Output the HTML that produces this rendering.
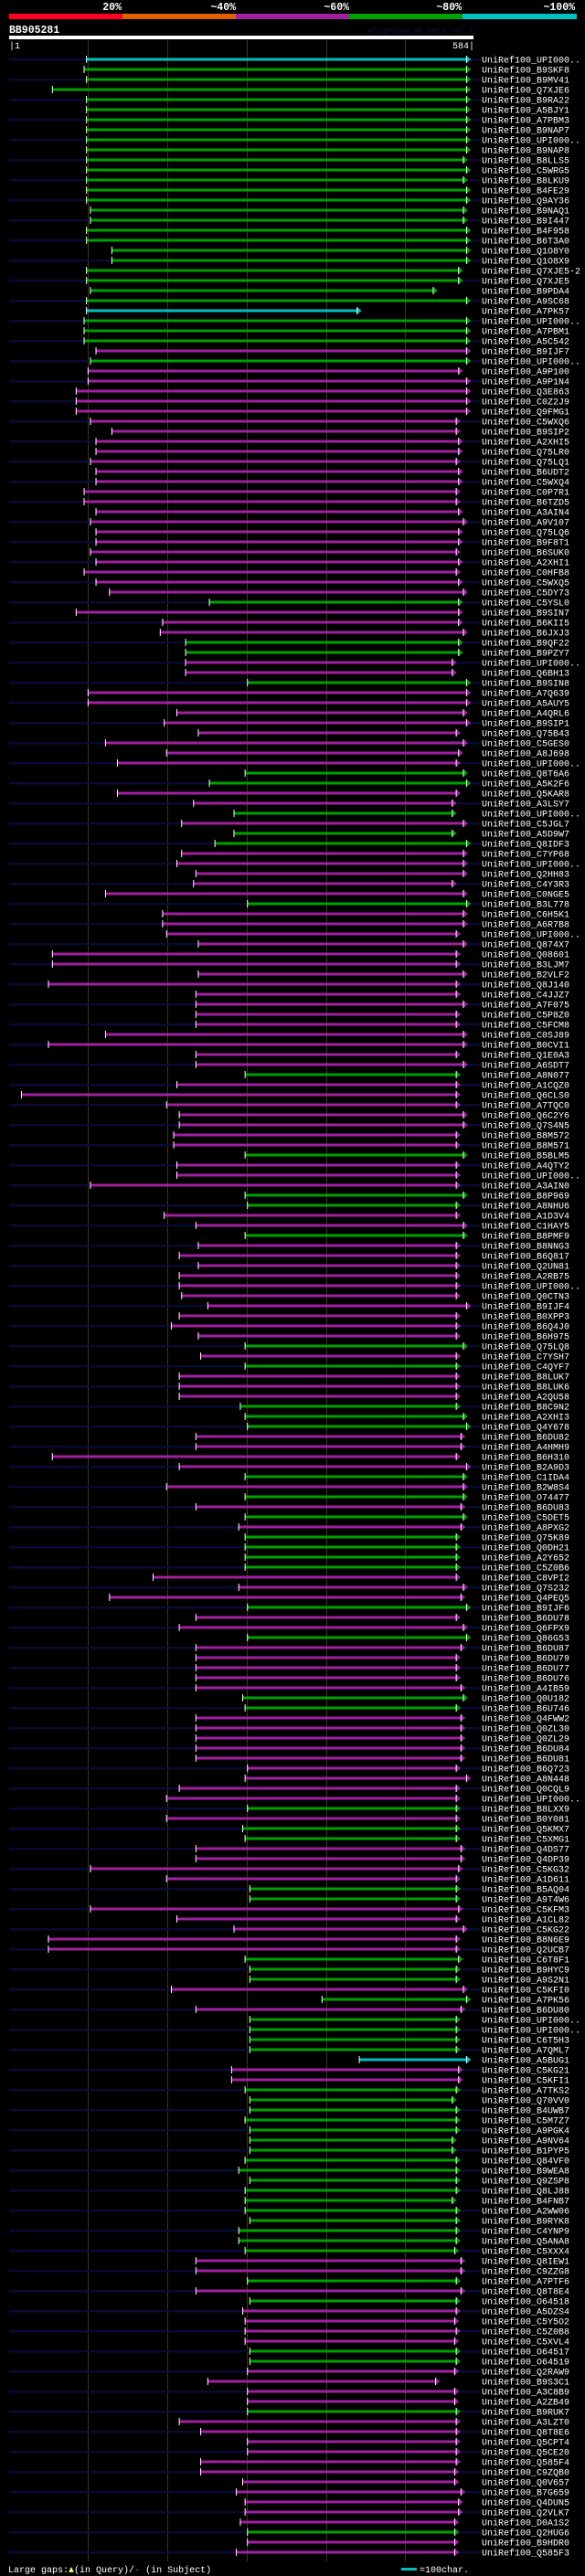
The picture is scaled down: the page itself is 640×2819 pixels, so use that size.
<!DOCTYPE html>
<html><head><meta charset="utf-8">
<style>
html,body{margin:0;padding:0;background:#000;}
body{width:640px;height:2819px;overflow:hidden;}
svg{display:block;}
text{font-family:"Liberation Mono",monospace;}
</style></head>
<body>
<svg id="chart" width="640" height="2819" xmlns="http://www.w3.org/2000/svg">
  <rect x="0" y="0" width="640" height="2819" fill="#000"/>
  <g>
    <rect x="10" y="15" width="124" height="6" fill="#ff0022"/>
    <rect x="134" y="15" width="124" height="6" fill="#e06000"/>
    <rect x="258" y="15" width="124" height="6" fill="#a020a0"/>
    <rect x="382" y="15" width="124" height="6" fill="#00a000"/>
    <rect x="506" y="15" width="125" height="6" fill="#00c0c0"/>
    <g fill="#fff" font-weight="bold" font-size="11.5" text-anchor="end">
      <text x="133" y="11">20%</text>
      <text x="258" y="11">~40%</text>
      <text x="382" y="11">~60%</text>
      <text x="505" y="11">~80%</text>
      <text x="629" y="11">~100%</text>
    </g>
  </g>
  <text x="10" y="36" fill="#fff" font-weight="bold" font-size="11.5">BB905281</text>
  <text x="402" y="36" fill="#141448" font-size="8.4">AlignView.pm Beta rel.7</text>
  <rect x="10" y="39" width="508" height="4" fill="#fff"/>
  <text x="10" y="53" fill="#fff" font-size="10">|1</text>
  <text x="519" y="53" fill="#fff" font-size="10" text-anchor="end">584|</text>
  <g id="grid"></g>
  <g id="rows"></g>
  <g>
    <text x="9" y="2815" fill="#fff" font-size="10">Large gaps:<tspan fill="#ffff80">▲</tspan>(in Query)/<tspan fill="#00c0c0">-</tspan> (in Subject)</text>
    <rect x="439" y="2810" width="17" height="3" fill="#00c0c0"/>
    <text x="459" y="2815" fill="#fff" font-size="10">=100char.</text>
  </g>
</svg>
<script>
const gridTicks = [98, 198, 298, 398, 498];
const names = ["UPI000..","B9SKF8","B9MV41","Q7XJE6","B9RA22","A5BJY1","A7PBM3","B9NAP7","UPI000..","B9NAP8",
"B8LLS5","C5WRG5","B8LKU9","B4FE29","Q9AY36","B9NAQ1","B9I447","B4F958","B6T3A0","Q1O8Y0",
"Q1O8X9","Q7XJE5-2","Q7XJE5","B9PDA4","A9SC68","A7PK57","UPI000..","A7PBM1","A5C542","B9IJF7",
"UPI000..","A9P100","A9P1N4","Q3E863","C0Z2J9","Q9FMG1","C5WXQ6","B9SIP2","A2XHI5","Q75LR0",
"Q75LQ1","B6UDT2","C5WXQ4","C0P7R1","B6TZD5","A3AIN4","A9V107","Q75LQ6","B9F8T1","B6SUK0",
"A2XHI1","C0HFB8","C5WXQ5","C5DY73","C5YSL0","B9SIN7","B6KII5","B6JXJ3","B9QF22","B9PZY7",
"UPI000..","Q6BH13","B9SIN8","A7Q639","A5AUY5","A4QRL6","B9SIP1","Q75B43","C5GES0","A8J698",
"UPI000..","Q8T6A6","A5K2F6","Q5KAR8","A3LSY7","UPI000..","C5JGL7","A5D9W7","Q8IDF3","C7YP68",
"UPI000..","Q2HH83","C4Y3R3","C0NGE5","B3L778","C6H5K1","A6R7B8","UPI000..","Q874X7","Q08601",
"B3LJM7","B2VLF2","Q8J140","C4JJZ7","A7F075","C5P8Z0","C5FCM8","C0SJ89","B0CVI1","Q1E0A3",
"A6SDT7","A8N077","A1CQZ0","Q6CLS0","A7TQC0","Q6C2Y6","Q7S4N5","B8M572","B8M571","B5BLM5",
"A4QTY2","UPI000..","A3AIN0","B8P969","A8NHU6","A1D3V4","C1HAY5","B8PMF9","B8NNG3","B6Q817",
"Q2UN81","A2RB75","UPI000..","Q0CTN3","B9IJF4","B0XPP3","B6Q4J0","B6H975","Q75LQ8","C7YSH7",
"C4QYF7","B8LUK7","B8LUK6","A2QU58","B8C9N2","A2XHI3","Q4Y678","B6DU82","A4HMH9","B6H310",
"B2A9D3","C1IDA4","B2W8S4","O74477","B6DU83","C5DET5","A8PXG2","Q75K89","Q0DH21","A2Y652",
"C5Z0B6","C8VPI2","Q7S232","Q4PEQ5","B9IJF6","B6DU78","Q6FPX9","Q86G53","B6DU87","B6DU79",
"B6DU77","B6DU76","A4IB59","Q0U182","B6U746","Q4FWW2","Q0ZL30","Q0ZL29","B6DU84","B6DU81",
"B6Q723","A8N448","Q0CQL9","UPI000..","B8LXX9","B0Y081","Q5KMX7","C5XMG1","Q4DS77","Q4DP39",
"C5KG32","A1D611","B5AQ04","A9T4W6","C5KFM3","A1CL82","C5KG22","B8N6E9","Q2UCB7","C6T8F1",
"B9HYC9","A9S2N1","C5KFI0","A7PK56","B6DU80","UPI000..","UPI000..","C6T5H3","A7QML7","A5BUG1",
"C5KG21","C5KFI1","A7TKS2","Q70VV0","B4UWB7","C5M7Z7","A9PGK4","A9NV64","B1PYP5","Q84VF0",
"B9WEA8","Q9ZSP8","Q8LJ88","B4FNB7","A2WW06","B9RYK8","C4YNP9","Q5ANA8","C5XXX4","Q8IEW1",
"C9ZZG8","A7PTF6","Q8T8E4","O64518","A5DZS4","C5Y5O2","C5Z0B8","C5XVL4","O64517","O64519",
"Q2RAW9","B9S3C1","A3C8B9","A2ZB49","B9RUK7","A3LZT0","Q8T8E6","Q5CPT4","Q5CE20","Q585F4",
"C9ZQB0","Q0V657","B7G659","Q4DUN5","Q2VLK7","D0A1S2","Q2HUG6","B9HDR0","Q585F3"];
const identityClass = "c"+"g".repeat(24)+"c"+"ggg"+"m"+"g"+"m".repeat(23)+"g"+"mmm"+"gg"+"mm"+"g"+"m".repeat(8)+"gg"+"mm"+"g"+"m"+"gg"+"m".repeat(5)+"g"+"m".repeat(16)+"g"+"m".repeat(7)+"g"+"mmm"+"gg"+"mm"+"g"+"m".repeat(10)+"g"+"m"+"g"+"mmm"+"ggg"+"m".repeat(4)+"g"+"m"+"g"+"m"+"g"+"m"+"gggg"+"mmm"+"g"+"mm"+"g"+"m".repeat(5)+"gg"+"m".repeat(9)+"g"+"m"+"gg"+"m".repeat(4)+"gg"+"m".repeat(5)+"ggg"+"m"+"g"+"m"+"gggg"+"c"+"mm"+"g".repeat(17)+"mm"+"g"+"m"+"g"+"m".repeat(4)+"gg"+"m".repeat(4)+"g"+"m".repeat(11)+"g"+"mm";
const starts = [96,93,96,53,96,96,96,96,96,96,
96,96,96,96,96,101,101,96,96,128,
128,96,96,101,96,96,93,93,93,108,
101,98,98,83,83,83,101,128,108,108,
101,108,108,93,93,108,101,108,108,101,
108,93,108,125,251,83,192,189,221,221,
221,221,299,98,98,210,194,237,120,197,
135,296,251,135,231,282,216,282,258,216,
210,234,231,120,299,192,192,197,237,53,
53,237,48,234,234,234,234,120,48,234,
234,296,210,14,197,213,213,206,206,296,
210,210,101,296,299,194,234,296,237,213,
237,213,213,216,249,213,203,237,296,240,
296,213,213,213,290,296,299,234,234,53,
213,296,197,296,234,296,288,296,296,296,
296,180,288,125,299,234,213,299,234,234,
234,234,234,293,296,234,234,234,234,234,
299,296,213,197,299,197,293,296,234,234,
101,197,302,302,101,210,282,48,48,296,
302,302,203,393,234,302,302,302,302,440,
279,279,296,302,302,296,302,302,302,296,
288,302,296,296,296,302,288,288,296,234,
234,299,234,302,293,296,296,296,302,302,
299,249,299,299,299,213,240,299,299,240,
240,293,285,296,296,290,299,299,285];
const ends = [581,581,581,581,581,581,581,581,581,581,
577,581,577,581,581,577,577,581,581,581,
581,571,571,539,581,443,581,581,581,581,
581,571,581,581,581,581,568,568,571,571,
568,571,571,568,568,571,577,571,571,568,
571,568,571,577,571,571,571,577,571,571,
563,563,581,581,581,577,581,568,577,571,
568,577,581,568,563,563,577,563,581,577,
577,577,563,577,581,577,577,568,577,568,
568,577,568,568,577,568,568,577,577,568,
577,568,568,568,568,577,577,568,568,577,
568,568,568,577,568,568,577,577,568,568,
568,568,568,568,581,568,568,568,577,568,
568,568,568,568,568,577,581,574,574,568,
581,577,577,577,574,577,574,568,568,568,
568,568,577,574,581,568,577,581,574,568,
568,568,574,577,568,574,574,574,574,574,
568,581,568,568,568,568,568,568,574,574,
571,568,568,568,571,568,577,568,568,571,
568,568,577,581,574,568,568,568,568,581,
571,571,568,563,568,568,568,563,563,568,
568,568,568,563,568,568,568,568,566,574,
574,568,574,568,568,566,568,566,568,568,
566,542,566,566,568,568,568,568,568,568,
566,566,574,571,571,566,566,566,566];

const colorMap = {c:"#00c0c0", g:"#00a000", m:"#a020a0"};
const NS = "http://www.w3.org/2000/svg";
function xScale(res){ return 12.2 + (res-1)*505.8/583; }
function rowY(i){ return 65 + i*11; }

const grid = document.getElementById('grid');
gridTicks.forEach(function(t){
  const l = document.createElementNS(NS,'line');
  const gx = Math.round(xScale(t))+0.5;
  l.setAttribute('x1',gx); l.setAttribute('x2',gx);
  l.setAttribute('y1',44); l.setAttribute('y2',2803);
  l.setAttribute('stroke','#3a3a12'); l.setAttribute('stroke-width','1');
  
  
  grid.appendChild(l);
});

const rowsG = document.getElementById('rows');
names.forEach(function(n,i){
  const y = rowY(i);
  const g = document.createElementNS(NS,'g');
  
  
  const col = colorMap[identityClass[i]] || "#a020a0";
  if(i%2===0){
    const bg = document.createElementNS(NS,'rect');
    bg.setAttribute('x',10); bg.setAttribute('y',y-1); bg.setAttribute('width',516); bg.setAttribute('height',2.5);
    bg.setAttribute('fill','#0a0a34');
    
    
    g.appendChild(bg);
  }
  const sx = xScale(starts[i]), ex = xScale(ends[i]);
  const bar = document.createElementNS(NS,'rect');
  bar.setAttribute('x',sx); bar.setAttribute('y',y-1.5);
  bar.setAttribute('width',Math.max(0,ex-5-sx)); bar.setAttribute('height',3);
  bar.setAttribute('fill',col);
  
  
  g.appendChild(bar);
  const tick = document.createElementNS(NS,'rect');
  tick.setAttribute('x',sx-0.5); tick.setAttribute('y',y-4); tick.setAttribute('width',1); tick.setAttribute('height',8);
  tick.setAttribute('fill','#fff');
  
  
  g.appendChild(tick);
  const arr = document.createElementNS(NS,'polygon');
  arr.setAttribute('points',(ex-5)+','+(y-4)+' '+(ex)+','+y+' '+(ex-5)+','+(y+4));
  arr.setAttribute('fill',col);
  
  
  g.appendChild(arr);
  const ae = document.createElementNS(NS,'rect');
  ae.setAttribute('x',ex-5.5); ae.setAttribute('y',y-4); ae.setAttribute('width',1); ae.setAttribute('height',8);
  ae.setAttribute('fill','#fff');
  
  
  g.appendChild(ae);
  const t = document.createElementNS(NS,'text');
  t.setAttribute('x',527); t.setAttribute('y',y+3.5);
  t.setAttribute('fill','#fff'); t.setAttribute('font-size','10');
  t.textContent = 'UniRef100_' + n;
  
  
  g.appendChild(t);
  rowsG.appendChild(g);
});
</script>
</body></html>
